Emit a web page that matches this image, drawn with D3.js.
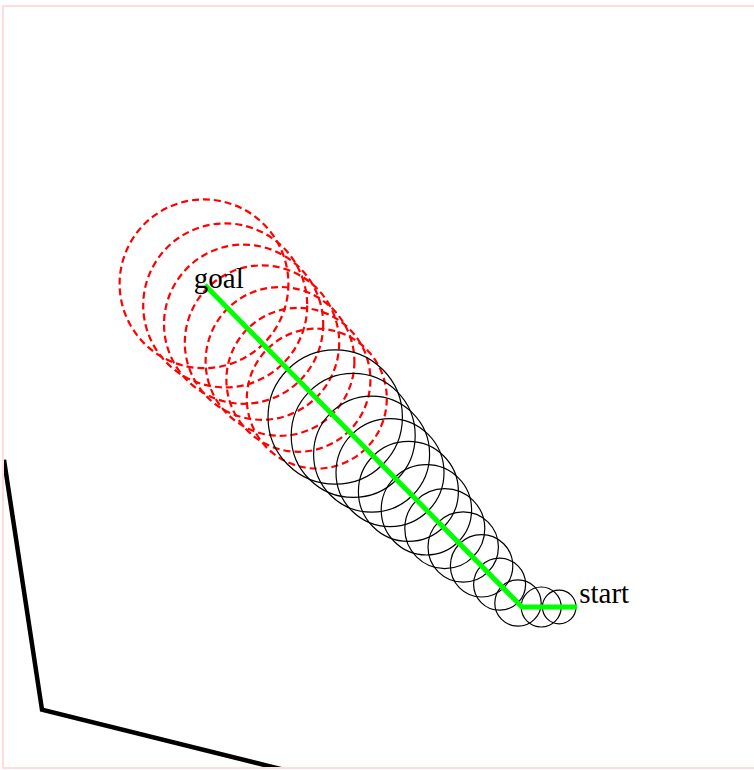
<!DOCTYPE html>
<html>
<head>
<meta charset="utf-8">
<script src="https://cdn.jsdelivr.net/npm/d3@7"></script>
<style>
  body { margin: 0; background: #fff; overflow: hidden; }
  svg { position: absolute; left: 2px; top: 5px; border: 2px solid #fdd; }
</style>
</head>
<body>
<svg></svg>
<script>
const width = 820;
const height = 760;

// planned path, world units
const pathX = [14.33, 12.95, 5.02];
const pathY = [4.0, 4.0, 12.05];

const labelNames = ["start", "goal"];
const labelX = [14.33, 5.02];
const labelY = [4.0, 12.05];

// footprints already covered (solid)
const bodyX = [13.88, 13.43, 12.85, 12.39, 11.94, 11.48, 11.02, 10.56, 10.11, 9.65, 9.19, 8.73, 8.28];
const bodyY = [4.0, 4.0, 4.10, 4.57, 5.03, 5.50, 5.96, 6.43, 6.89, 7.36, 7.82, 8.29, 8.75];
const bodyR = [0.42, 0.50, 0.58, 0.65, 0.78, 0.88, 1.0, 1.13, 1.25, 1.35, 1.45, 1.55, 1.68];

// predicted footprints (dashed)
const predX = [7.82, 7.36, 6.90, 6.45, 5.99, 5.53, 5.00];
const predY = [9.21, 9.68, 10.14, 10.61, 11.07, 11.54, 12.08];
const predR = [1.75, 1.80, 1.86, 1.93, 1.99, 2.05, 2.11];

// wall
const wallX = [0.0, 0.95, 7.4];
const wallY = [7.68, 1.43, -0.17];

let svg = d3.select("svg")
    .attr("width", width)
    .attr("height", height);

const scX = d3.scaleLinear().domain([0, 20.5]).range([0, width]);
const scY = d3.scaleLinear().domain([0, 19]).range([height, 0]);
const scR = r => scX(r) - scX(0);

function zip(xs, ys, rs) {
    return xs.map((x, i) => ({x: x, y: ys[i], r: rs ? rs[i] : 0}));
}

function drawCircles(data, color, width, dash) {
    svg.append("g")
        .selectAll("circle")
        .data(data)
        .enter()
        .append("circle")
        .attr("cx", d => scX(d.x))
        .attr("cy", d => scY(d.y))
        .attr("r", d => scR(d.r))
        .style("fill", "none")
        .style("stroke", color)
        .style("stroke-width", width)
        .style("stroke-dasharray", dash);
}

function drawLine(data, color, width) {
    let line = d3.line()
        .x(d => scX(d.x))
        .y(d => scY(d.y));
    svg.append("path")
        .attr("d", line(data))
        .style("fill", "none")
        .style("stroke", color)
        .style("stroke-width", width);
}

drawCircles(zip(predX, predY, predR), "red", 2.2, "7,4");
drawCircles(zip(bodyX, bodyY, bodyR), "black", 1.2, null);
drawLine(zip(pathX, pathY), "lime", 5);
drawLine(zip(wallX, wallY), "black", 4.5);

// labels
const offsets = [[2, -4], [-11, 3]];
svg.selectAll(".label")
    .data(labelNames)
    .enter()
    .append("text")
    .attr("x", (d, i) => scX(labelX[i]) + offsets[i][0])
    .attr("y", (d, i) => scY(labelY[i]) + offsets[i][1])
    .style("font-family", "'Liberation Serif', 'Times New Roman', serif")
    .style("font-size", "29px")
    .style("fill", "black")
    .text(d => d);
</script>
</body>
</html>
